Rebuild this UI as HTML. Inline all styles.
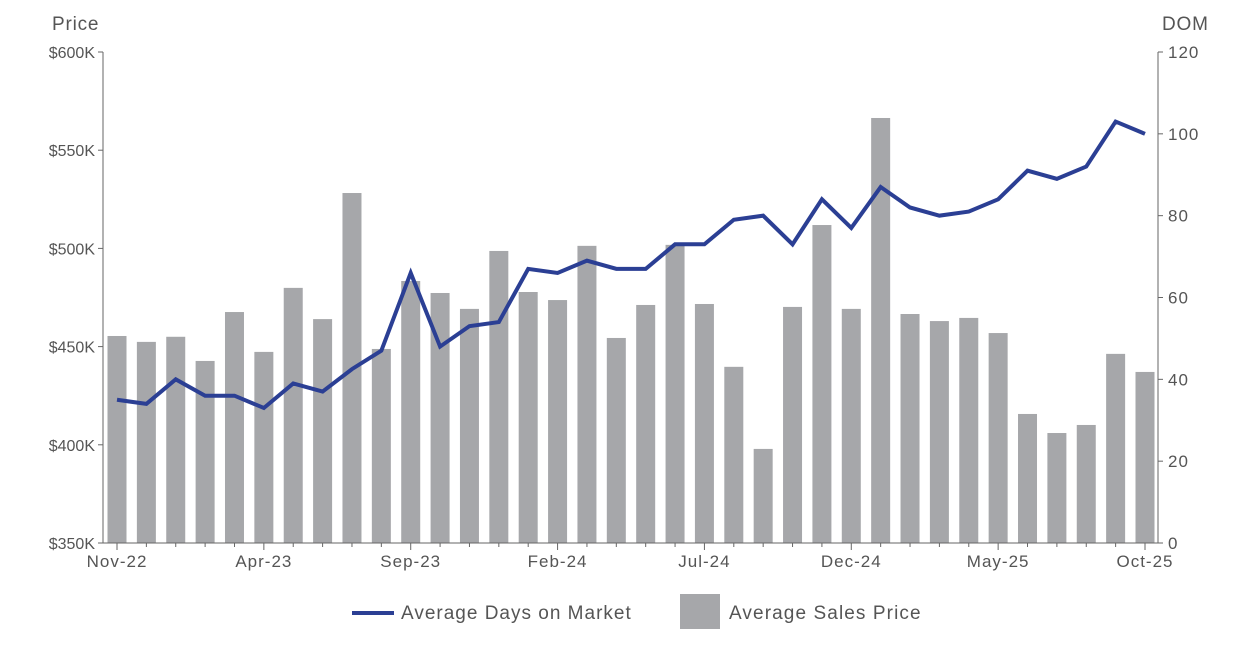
<!DOCTYPE html>
<html><head><meta charset="utf-8"><style>
body{margin:0;background:#fff;}
svg text{font-family:"Liberation Sans",Arial,sans-serif;fill:#555;}
</style></head><body>
<svg id="chart" width="1247" height="645" xmlns="http://www.w3.org/2000/svg">
<text x="52" y="30" font-size="19" letter-spacing="0.8">Price</text>
<text x="1162" y="30" font-size="19" letter-spacing="0.8">DOM</text>
<g id="bars"></g>
<g id="axes"></g>
<g id="line"></g>
<g>
<line x1="352" y1="613" x2="394" y2="613" stroke="#2b3f94" stroke-width="4"/>
<text x="401" y="619" font-size="19" letter-spacing="1">Average Days on Market</text>
<rect x="680" y="594" width="40" height="35" fill="#a6a7aa"/>
<text x="729" y="619" font-size="19" letter-spacing="1.1">Average Sales Price</text>
</g>
</svg>
<script>
const months=["Nov-22","Dec-22","Jan-23","Feb-23","Mar-23","Apr-23","May-23","Jun-23","Jul-23","Aug-23","Sep-23","Oct-23","Nov-23","Dec-23","Jan-24","Feb-24","Mar-24","Apr-24","May-24","Jun-24","Jul-24","Aug-24","Sep-24","Oct-24","Nov-24","Dec-24","Jan-25","Feb-25","Mar-25","Apr-25","May-25","Jun-25","Jul-25","Aug-25","Sep-25","Oct-25"];
const prices=[455.4,452.4,455,442.7,467.6,447.3,479.9,464,528.2,448.8,483.4,477.3,469.2,498.7,477.8,473.7,501.3,454.4,471.2,501.8,471.7,439.7,397.9,470.2,511.9,469.2,566.4,466.6,463,464.6,456.9,415.7,406,410.1,446.3,437.1];
const dom=[35,34,40,36,36,33,39,37,42.5,47,66,48,53,54,67,66,69,67,67,73,73,79,80,73,84,77,87,82,80,81,84,91,89,92,103,100];
const priceTicks=[350,400,450,500,550,600];
const domTicks=[0,20,40,60,80,100,120];
const ns="http://www.w3.org/2000/svg";
const L=103,R=1158,T=52,B=543;
const x0=117,step=(1145-117)/35;
const xs=i=>x0+i*step;
const yP=v=>B-(v-350)/250*(B-T);
const yD=v=>B-v/120*(B-T);
function mk(tag,attrs,parent,txt){const e=document.createElementNS(ns,tag);for(const k in attrs)e.setAttribute(k,attrs[k]);if(txt!==undefined)e.textContent=txt;parent.appendChild(e);return e;}
const gb=document.getElementById('bars'),ga=document.getElementById('axes'),gl=document.getElementById('line');
prices.forEach((v,i)=>{const r=mk('rect',{x:xs(i)-9.5,y:yP(v),width:19,height:B-yP(v),fill:'#a6a7aa'},gb);

});
let l=mk('line',{x1:L,y1:T,x2:L,y2:B,stroke:'#666'},ga);

l=mk('line',{x1:R,y1:T,x2:R,y2:B,stroke:'#666'},ga);

l=mk('line',{x1:L,y1:B,x2:R,y2:B,stroke:'#666'},ga);

priceTicks.forEach(v=>{mk('line',{x1:L-5,y1:yP(v),x2:L,y2:yP(v),stroke:'#666'},ga);
const t=mk('text',{x:L-8,y:yP(v)+6,'text-anchor':'end','font-size':16},ga,'$'+v+'K');
});
domTicks.forEach(v=>{mk('line',{x1:R,y1:yD(v),x2:R+5,y2:yD(v),stroke:'#666'},ga);
const t=mk('text',{x:R+10,y:yD(v)+6,'font-size':17,'letter-spacing':1},ga,String(v));
});
months.forEach((m,i)=>{mk('line',{x1:xs(i),y1:B,x2:xs(i),y2:B+(i%5===0?7:4),stroke:'#666'},ga);
if(i%5===0){const t=mk('text',{x:xs(i),y:B+24,'text-anchor':'middle','font-size':17,'letter-spacing':1},ga,m);
}});
const p=mk('polyline',{points:dom.map((v,i)=>xs(i)+','+yD(v)).join(' '),fill:'none',stroke:'#2b3f94','stroke-width':4,'stroke-linejoin':'miter'},gl);

</script>
</body></html>
